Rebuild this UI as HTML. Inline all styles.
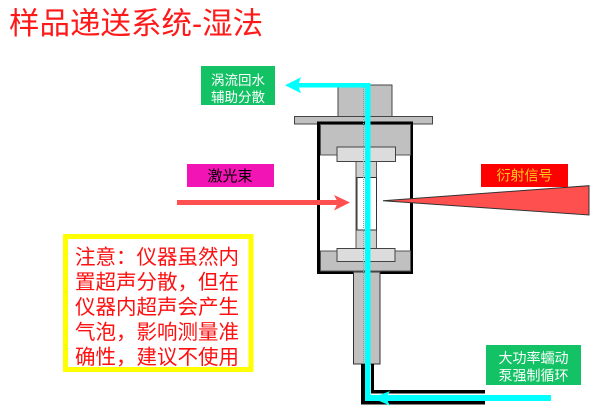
<!DOCTYPE html>
<html>
<head>
<meta charset="utf-8">
<style>
  html,body{margin:0;padding:0;background:#fff;}
  body{width:600px;height:413px;overflow:hidden;}
  svg{display:block;}
  .t{font-family:"Liberation Sans","Noto Sans CJK SC",sans-serif;}
</style>
</head>
<body>
<svg width="600" height="413" viewBox="0 0 600 413" xmlns="http://www.w3.org/2000/svg">
  <rect width="600" height="413" fill="#fff"/>

  <!-- Title -->
  <text class="t" x="9" y="34" font-size="30.5" fill="#ff1a1a">样品递送系统-湿法</text>

  <!-- Green box top-left -->
  <rect x="201" y="66" width="74" height="39" fill="#14c266"/>
  <text class="t" x="238" y="85" font-size="13.5" fill="#fff" text-anchor="middle">涡流回水</text>
  <text class="t" x="238" y="102" font-size="13.5" fill="#fff" text-anchor="middle">辅助分散</text>

  <!-- Upper block and flange -->
  <rect x="338" y="85" width="54" height="32" fill="#c0c0c0" stroke="#444" stroke-width="1"/>
  <rect x="294.5" y="116.5" width="138" height="7.5" fill="#c0c0c0" stroke="#444" stroke-width="1"/>

  <!-- Outer box -->
  <rect x="318.5" y="123" width="93" height="149.5" fill="#fff" stroke="#000" stroke-width="3"/>

  <!-- Upper gray block -->
  <rect x="320.5" y="124.5" width="90" height="30.5" fill="#c0c0c0" stroke="#555" stroke-width="1"/>
  <!-- Lower gray block -->
  <rect x="320.5" y="251" width="90" height="20" fill="#c0c0c0" stroke="#555" stroke-width="1"/>

  <!-- Stem -->
  <rect x="356" y="161" width="20.5" height="88" fill="#d0d0d0" stroke="#555" stroke-width="1"/>
  <!-- Window -->
  <rect x="357" y="177.5" width="19.5" height="52.5" fill="#fff" stroke="#333" stroke-width="1"/>

  <!-- Light blocks -->
  <rect x="337" y="147" width="58.5" height="14.5" fill="#dcdcdc" stroke="#444" stroke-width="1"/>
  <rect x="337" y="248.5" width="58" height="13" fill="#dcdcdc" stroke="#444" stroke-width="1"/>

  <!-- Lower tube -->
  <rect x="353.5" y="272" width="26.5" height="92" fill="#c0c0c0" stroke="#333" stroke-width="1"/>

  <!-- Black pipe walls -->
  <rect x="361" y="364" width="4" height="40.5" fill="#000"/>
  <rect x="371" y="364" width="3" height="29.5" fill="#000"/>
  <rect x="371" y="390" width="114" height="3.5" fill="#000"/>
  <rect x="361" y="401" width="124" height="3.5" fill="#000"/>

  <!-- Dotted line -->
  <line x1="363.5" y1="85" x2="363.5" y2="362" stroke="#999" stroke-width="1" stroke-dasharray="1,1"/>

  <!-- Cyan flow -->
  <rect x="365" y="83" width="5.5" height="318" fill="#00ffff"/>
  <rect x="298" y="83" width="72" height="4.5" fill="#00ffff"/>
  <polygon points="285,85.2 301,77.3 298,85.2 301,93.3" fill="#00ffff"/>
  <rect x="370" y="395" width="181" height="6" fill="#00ffff"/>
  <polygon points="372,398 390,391 386,398 390,405.5" fill="#00ffff"/>

  <!-- Laser -->
  <rect x="177" y="200" width="162" height="5" fill="#ff5050"/>
  <polygon points="350,202.5 334,195 338,202.5 334,210.5" fill="#ff5050"/>
  <rect x="187" y="164" width="87" height="23" fill="#f214b4"/>
  <text class="t" x="230" y="181" font-size="15" fill="#000" text-anchor="middle">激光束</text>

  <!-- Diffraction wedge -->
  <polygon points="383,200.7 589,185.7 589,215" fill="#ff5050" stroke="#333" stroke-width="1"/>
  <rect x="481" y="164" width="87" height="23" fill="#ff0000"/>
  <text class="t" x="524.5" y="180.5" font-size="14" fill="#ffcc22" text-anchor="middle">衍射信号</text>

  <!-- Note box -->
  <rect x="65.5" y="236.5" width="185.5" height="133" fill="#fff" stroke="#ffff00" stroke-width="5"/>
  <g class="t" font-size="20.5" fill="#ff1010">
    <text x="75" y="264">注意：仪器虽然内</text>
    <text x="75" y="289">置超声分散，但在</text>
    <text x="75" y="314">仪器内超声会产生</text>
    <text x="75" y="339">气泡，影响测量准</text>
    <text x="75" y="364">确性，建议不使用</text>
  </g>

  <!-- Green box bottom-right -->
  <rect x="486" y="345" width="95" height="40" fill="#14c266"/>
  <text class="t" x="533.5" y="363" font-size="14" fill="#fff" text-anchor="middle">大功率蠕动</text>
  <text class="t" x="533.5" y="380.5" font-size="14" fill="#fff" text-anchor="middle">泵强制循环</text>
</svg>
</body>
</html>
